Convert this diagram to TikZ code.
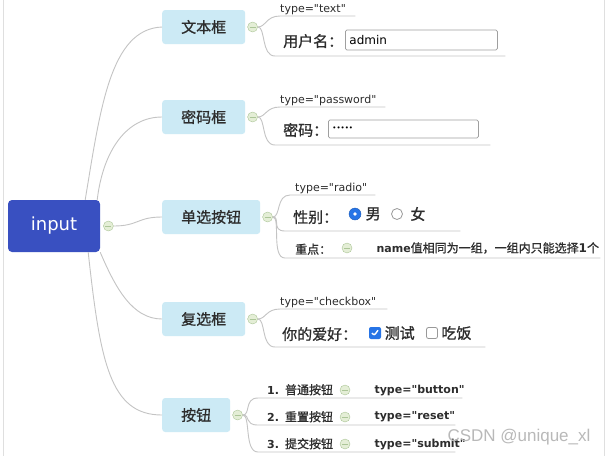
\documentclass[tikz,border=0pt]{standalone}
\usepackage{fontspec}
\setmainfont{Noto Sans CJK SC}
\newfontfamily\cjkmed{Noto Sans CJK SC}[FakeBold=1]
\newfontfamily\enfont{DejaVu Sans}
\newfontfamily\markfont{Liberation Sans}
\usetikzlibrary{positioning}

\definecolor{rootblue}{RGB}{57,80,193}
\definecolor{topicblue}{RGB}{204,234,245}
\definecolor{linegray}{RGB}{196,196,196}
\definecolor{foldfill}{RGB}{228,238,214}
\definecolor{foldline}{RGB}{172,198,152}
\definecolor{textdark}{RGB}{45,45,45}
\definecolor{tickblue}{RGB}{38,116,230}

\begin{document}
\begin{tikzpicture}[x=1pt, y=-1pt,
    root/.style={rectangle, rounded corners=4pt, fill=rootblue, text=white, minimum width=92pt, minimum height=52pt, font=\enfont\fontsize{18}{21}\selectfont},
    topic/.style={rectangle, anchor=west, rounded corners=3pt, fill=topicblue, text=textdark, minimum height=34pt, inner xsep=19pt, font=\cjkmed\fontsize{15}{18}\selectfont},
    fold/.style={circle, draw=foldline, fill=foldfill, minimum size=10pt, inner sep=0pt,
        path picture={\draw[foldline, line width=0.8pt] ([xshift=-3pt]path picture bounding box.center) -- ([xshift=3pt]path picture bounding box.center);}},
    branch/.style={draw=linegray, line width=0.9pt},
    edgeline/.style={draw=gray!25, line width=1pt},
    leaf/.style={anchor=south west, inner xsep=0pt, text depth=2pt, align=left, text=textdark},
    typetxt/.style={font=\enfont\fontsize{11}{13}\selectfont},
    boldtype/.style={font=\enfont\bfseries\fontsize{11}{13}\selectfont, text=textdark},
    labeltxt/.style={font=\cjkmed\fontsize{15}{18}\selectfont, text=textdark},
    notetxt/.style={font=\cjkmed\fontsize{12}{14}\selectfont, text=textdark},
    btntxt/.style={font=\cjkmed\fontsize{12}{14}\selectfont, text=textdark},
    field/.style={rectangle, anchor=west, draw=gray!75, line width=0.8pt, rounded corners=1.5pt, inner xsep=4pt, text=black, align=left},
    radioon/.style={circle, fill=tickblue, draw=tickblue!80!black, minimum size=12pt, inner sep=0pt,
        path picture={\fill[white] (path picture bounding box.center) circle (1.8pt);}},
    radiooff/.style={circle, draw=gray!80, fill=white, line width=0.8pt, minimum size=11pt, inner sep=0pt},
    checkon/.style={rectangle, rounded corners=2pt, fill=tickblue, minimum size=12pt, inner sep=0pt,
        path picture={\draw[white, line width=1.4pt] ([shift={(-3pt,0pt)}]path picture bounding box.center) -- ([shift={(-0.8pt,-2.5pt)}]path picture bounding box.center) -- ([shift={(3pt,2.8pt)}]path picture bounding box.center);}},
    checkoff/.style={rectangle, rounded corners=2pt, draw=gray!80, fill=white, line width=0.8pt, minimum size=11pt, inner sep=0pt}
]
\useasboundingbox (0,0) rectangle (607,456);
\fill[white] (0,0) rectangle (607,456);
\draw[edgeline] (3,0) -- (3,456);
\draw[edgeline] (604,0) -- (604,456);

% central topic and main branches
\node[root] (input) at (54,226) {input};
\node[fold, right=3pt of input] (f0) {};
\node[topic] (wbk) at (162,27) {文本框};
\node[topic] (mmk) at (162,117) {密码框};
\node[topic] (dxan) at (162,217) {单选按钮};
\node[topic] (fxk) at (162,319) {复选框};
\node[topic] (an) at (162,415) {按钮};
\foreach \t/\f in {wbk/f1, mmk/f2, dxan/f3, fxk/f4, an/f5}
    \node[fold, right=2pt of \t] (\f) {};

\draw[branch] ([xshift=-15pt]input.north east) .. controls +(15,-90) and +(-52,2) .. (wbk.west);
\draw[branch] ([xshift=-3pt]input.north east) .. controls +(6,-50) and +(-35,0) .. (mmk.west);
\draw[branch] (f0.east) .. controls +(25,0) and +(-25,0) .. (dxan.west);
\draw[branch] (input.south east) .. controls +(15,35) and +(-30,0) .. (fxk.west);
\draw[branch] ([xshift=-12pt]input.south east) .. controls +(12,110) and +(-52,0) .. (an.west);

% 文本框
\node[leaf, typetxt, inner ysep=1pt, text width=75pt] (l1a) at (280,16) {type="text"};
\node[leaf, labeltxt, inner ysep=7pt, text width=230pt] (l1b) at (275,56) {\hspace{8pt}用户名：};
\node[field, text width=144pt, minimum height=20pt, font=\enfont\fontsize{12}{14}\selectfont] (in1) at (345,40) {admin};

% 密码框
\node[leaf, typetxt, inner ysep=1pt, text width=105pt] (l2a) at (280,107) {type="password"};
\node[leaf, labeltxt, inner ysep=7pt, text width=215pt] (l2b) at (275,145) {\hspace{8pt}密码：};
\node[field, text width=142pt, minimum height=18pt, font=\enfont\fontsize{7}{8}\selectfont] (in2) at (328,129) {•••••};

% 单选按钮
\node[leaf, typetxt, inner ysep=1pt, text width=85pt] (l3a) at (290,195) {\hspace{5pt}type="radio"};
\node[leaf, labeltxt, inner ysep=6pt, text width=175pt] (l3b) at (285,231) {\hspace{8pt}性别：};
\node[radioon] (r1) at (355,214) {};
\node[labeltxt, right=1pt of r1] (nan) {男};
\node[radiooff] (r2) at (397,214) {};
\node[labeltxt, right=4pt of r2] (nv) {女};
\node[leaf, notetxt, inner ysep=2pt, text width=315pt] (l3c) at (285,258) {\hspace{10pt}重点：};
\node[fold] (f6) at (347,248) {};
\node[notetxt, anchor=west] (rule) at (373,248) {{\enfont\bfseries\fontsize{11}{13}\selectfont name}值相同为一组，一组内只能选择{\enfont\bfseries 1}个};

% 复选框
\node[leaf, typetxt, inner ysep=1pt, text width=107pt] (l4a) at (280,309) {type="checkbox"};
\node[leaf, labeltxt, inner ysep=5pt, text width=210pt] (l4b) at (275,347) {\hspace{7pt}你的爱好：};
\node[checkon] (c1) at (375,333) {};
\node[labeltxt, right=0pt of c1] (cs) {测试};
\node[checkoff] (c2) at (432,333) {};
\node[labeltxt, right=0pt of c2] (cf) {吃饭};

% 按钮
\foreach \i/\y/\w/\n/\lbl/\typ in {a/398/204/1/普通按钮/button, b/425/197/2/重置按钮/reset, c/452/197/3/提交按钮/submit} {
    \node[leaf, btntxt, inner ysep=1.5pt, text width=\w pt] (l5\i) at (258,\y) {\hspace{9pt}{\enfont\bfseries\fontsize{11}{13}\selectfont\n. }\lbl};
    \node[fold] (g\i) at (345,\y-8) {};
    \node[boldtype, anchor=west] (t\i) at (371,\y-8) {type="\typ"};
}

% underlines of the sub topics
\foreach \f/\l in {f1/l1a, f1/l1b, f2/l2a, f2/l2b, f3/l3a, f3/l3b, f3/l3c, f4/l4a, f4/l4b, f5/l5a, f5/l5b, f5/l5c}
    \draw[branch] (\f.east) .. controls +(8,0) and +(-14,0) .. (\l.south west) -- (\l.south east);

\node[anchor=west, text=gray!55, font=\markfont\fontsize{17}{20}\selectfont] (mark) at (444,437) {CSDN @unique\_xl};
\end{tikzpicture}
\end{document}
